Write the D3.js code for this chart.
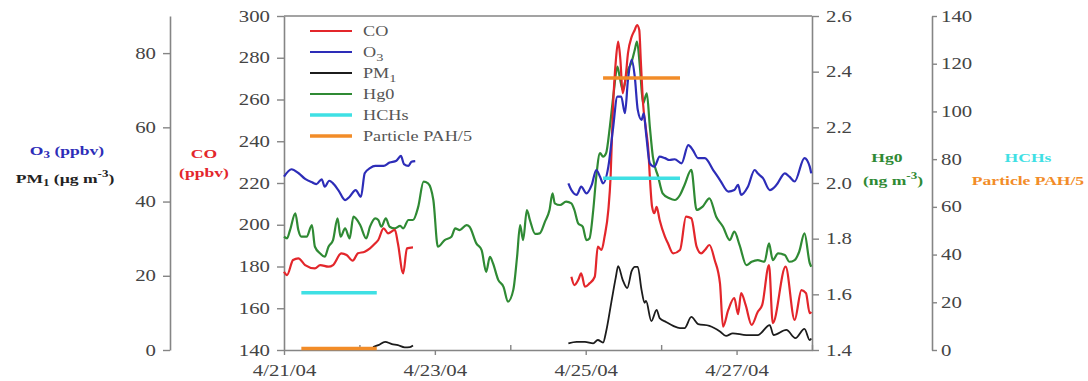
<!DOCTYPE html>
<html>
<head>
<meta charset="utf-8">
<script src="https://cdn.jsdelivr.net/npm/d3@7"></script>
<style>
  body { margin: 0; background: #fff; }
</style>
</head>
<body>
<div id="chart"></div>
<script>
// time is in days after 4/21/04 00:00
const coSeg1 = [[0.00,177.5],[0.04,175.9],[0.12,183.1],[0.19,183.9],[0.28,180.7],[0.41,179.1],[0.48,180.7],[0.59,179.9],[0.65,180.7],[0.76,186.3],[0.83,185.5],[0.91,182.8],[0.98,186.3],[1.07,187.1],[1.14,188.7],[1.21,191.1],[1.25,192.7],[1.32,198.3],[1.38,195.9],[1.47,197.5],[1.51,191.1],[1.58,176.7],[1.63,188.7],[1.71,189.2]];
const coSeg2 = [[3.81,175.1],[3.85,171.1],[3.90,173.5],[3.94,176.7],[3.99,170.3],[4.05,171.9],[4.12,175.1],[4.16,189.5],[4.21,187.9],[4.25,194.3],[4.30,207.1],[4.33,223.0],[4.36,255.0],[4.40,278.9],[4.43,287.7],[4.46,278.9],[4.49,263.0],[4.53,270.9],[4.56,282.1],[4.61,290.1],[4.65,293.3],[4.68,295.7],[4.71,293.3],[4.73,278.9],[4.76,258.2],[4.80,245.4],[4.83,235.8],[4.85,223.0],[4.88,208.6],[4.91,205.5],[4.94,208.6],[4.98,202.3],[5.05,194.3],[5.09,191.1],[5.16,186.3],[5.25,187.9],[5.33,203.9],[5.40,203.1],[5.47,189.5],[5.53,186.3],[5.58,187.9],[5.64,190.3],[5.71,183.1],[5.78,171.9],[5.82,151.2],[5.89,159.2],[5.97,164.9],[6.02,157.2],[6.06,167.3],[6.12,161.6],[6.20,152.0],[6.28,158.2],[6.34,161.6],[6.43,180.7],[6.48,152.9],[6.65,179.9],[6.77,154.4],[6.86,168.7],[6.92,167.2],[6.97,157.6],[6.99,158.3]];

const o3Seg1 = [[0.00,46.7],[0.10,48.7],[0.19,47.7],[0.28,46.1],[0.38,45.1],[0.43,44.7],[0.50,46.0],[0.54,44.0],[0.60,45.6],[0.65,44.9],[0.72,43.1],[0.81,40.4],[0.87,41.3],[0.95,43.1],[1.02,41.3],[1.07,47.6],[1.14,49.0],[1.21,49.6],[1.32,49.6],[1.40,50.5],[1.49,51.0],[1.55,52.3],[1.59,50.1],[1.65,49.6],[1.69,50.7],[1.74,50.9]];
const o3Seg2 = [[3.77,44.9],[3.81,43.1],[3.88,41.8],[3.94,44.0],[4.01,42.2],[4.08,44.5],[4.14,48.5],[4.19,46.7],[4.23,44.9],[4.30,49.4],[4.36,59.3],[4.42,68.3],[4.47,68.3],[4.52,63.8],[4.56,72.8],[4.61,78.2],[4.65,73.7],[4.69,64.7],[4.74,62.0],[4.77,63.8],[4.80,58.4],[4.85,50.3],[4.91,49.4],[4.98,52.1],[5.05,51.7],[5.11,51.2],[5.18,51.4],[5.27,50.3],[5.36,55.2],[5.42,53.9],[5.49,51.7],[5.58,51.7],[5.69,48.5],[5.78,45.8],[5.89,42.7],[5.97,43.1],[6.02,44.5],[6.06,41.8],[6.15,44.0],[6.24,48.5],[6.28,47.6],[6.35,46.3],[6.44,43.1],[6.53,44.5],[6.64,47.6],[6.70,46.7],[6.77,45.4],[6.90,51.7],[6.97,49.4],[6.99,47.6]];

const pmSeg1 = [[1.18,0.8],[1.25,1.3],[1.34,2.2],[1.43,1.6],[1.51,1.3],[1.60,0.7],[1.67,0.8],[1.71,1.2]];
const pmSeg2 = [[3.77,1.8],[3.88,2.2],[3.99,2.2],[4.10,1.8],[4.16,2.7],[4.23,2.0],[4.27,4.9],[4.34,12.9],[4.40,19.7],[4.43,22.6],[4.49,18.9],[4.55,16.7],[4.61,21.3],[4.65,22.4],[4.69,22.4],[4.74,16.2],[4.78,12.7],[4.80,13.2],[4.87,7.8],[4.94,10.8],[4.98,8.6],[5.07,7.5],[5.16,6.5],[5.25,5.9],[5.31,5.9],[5.40,8.9],[5.49,7.0],[5.64,6.5],[5.78,5.0],[5.86,3.8],[5.95,4.5],[6.13,4.0],[6.28,4.0],[6.44,6.7],[6.49,4.0],[6.66,5.4],[6.78,3.2],[6.90,5.7],[6.97,2.7],[6.99,3.1]];

const hgSeries = [[0.00,1.807],[0.04,1.801],[0.08,1.831],[0.15,1.891],[0.19,1.831],[0.23,1.807],[0.30,1.807],[0.37,1.849],[0.41,1.771],[0.48,1.747],[0.54,1.735],[0.59,1.771],[0.65,1.795],[0.71,1.873],[0.75,1.807],[0.81,1.837],[0.87,1.801],[0.92,1.879],[1.01,1.849],[1.09,1.801],[1.14,1.843],[1.21,1.873],[1.25,1.867],[1.29,1.843],[1.35,1.873],[1.40,1.843],[1.47,1.837],[1.54,1.846],[1.58,1.837],[1.65,1.867],[1.71,1.867],[1.78,1.915],[1.85,2.005],[1.91,1.999],[1.98,1.939],[2.04,1.771],[2.13,1.795],[2.22,1.807],[2.27,1.837],[2.33,1.831],[2.42,1.849],[2.46,1.843],[2.55,1.783],[2.62,1.759],[2.68,1.681],[2.73,1.735],[2.77,1.712],[2.84,1.652],[2.91,1.627],[2.97,1.574],[3.04,1.616],[3.09,1.735],[3.13,1.849],[3.17,1.795],[3.22,1.903],[3.26,1.867],[3.33,1.817],[3.39,1.819],[3.46,1.861],[3.52,1.903],[3.56,1.963],[3.59,1.927],[3.66,1.921],[3.74,1.933],[3.81,1.927],[3.85,1.903],[3.90,1.855],[3.96,1.843],[4.01,1.795],[4.05,1.801],[4.10,1.903],[4.14,2.023],[4.19,2.107],[4.23,2.095],[4.27,2.107],[4.32,2.202],[4.37,2.322],[4.42,2.418],[4.45,2.382],[4.49,2.334],[4.55,2.400],[4.61,2.436],[4.65,2.478],[4.68,2.508],[4.72,2.412],[4.76,2.286],[4.81,2.322],[4.85,2.202],[4.89,2.095],[4.96,2.023],[5.02,1.963],[5.11,1.945],[5.18,1.939],[5.25,1.957],[5.31,1.993],[5.40,2.047],[5.47,1.903],[5.55,1.915],[5.64,1.945],[5.73,1.879],[5.82,1.843],[5.91,1.795],[5.97,1.825],[6.04,1.777],[6.13,1.705],[6.20,1.717],[6.28,1.723],[6.37,1.717],[6.43,1.783],[6.48,1.723],[6.55,1.747],[6.64,1.741],[6.70,1.717],[6.77,1.723],[6.83,1.753],[6.90,1.819],[6.97,1.712],[6.99,1.699]];

// sample windows (start day, end day) and values
const sampleStart = [0.23, 4.23];
const sampleEnd = [1.23, 5.25];
const hchValues = [24, 72];
const pahValues = [0.6, 114];

const coTicks = [140, 160, 180, 200, 220, 240, 260, 280, 300];
const o3Ticks = [0, 20, 40, 60, 80];
const hgTicks = [1.4, 1.6, 1.8, 2.0, 2.2, 2.4, 2.6];
const hchTicks = [0, 20, 40, 60, 80, 100, 120, 140];

const legendNames = ["CO", "O3", "PM1", "Hg0", "HCHs", "Particle PAH/5"];
const colors = { co: "#e3262b", o3: "#2d2db8", pm: "#1c1c1c", hg: "#2f8a34", hch: "#3fe0e4", pah: "#f28c28" };

const width = 1088, height = 381;
const plotLeft = 284, plotRight = 812, plotTop = 16, plotBottom = 350;
const axisColor = "#858585", textColor = "#444";
const font = "'Liberation Serif', 'Times New Roman', serif";
const stretch = 1.3; // the source picture's lettering is wide

const svg = d3.select("#chart").append("svg")
  .attr("width", width)
  .attr("height", height)
  .attr("font-family", font);

const start = new Date(2004, 3, 21);
const end = new Date(2004, 3, 28);
const toDate = d => new Date(+start + d * 864e5);

const x = d3.scaleTime().domain([start, end]).range([plotLeft, plotRight]);
const yCO = d3.scaleLinear().domain([140, 300]).range([plotBottom, plotTop]);
const yO3 = d3.scaleLinear().domain([0, 90]).range([plotBottom, plotTop]);
const yHg = d3.scaleLinear().domain([1.4, 2.6]).range([plotBottom, plotTop]);
const yHch = d3.scaleLinear().domain([0, 140]).range([plotBottom, plotTop]);

function styleAxis(g) {
  g.attr("font-family", font).attr("font-size", 16);
  g.select(".domain").attr("stroke", axisColor).attr("stroke-width", 1.6);
  g.selectAll(".tick line").attr("stroke", axisColor).attr("stroke-width", 1.4);
  g.selectAll(".tick text").attr("fill", textColor);
}

// frame top
svg.append("line")
  .attr("x1", plotLeft).attr("x2", plotRight).attr("y1", plotTop).attr("y2", plotTop)
  .attr("stroke", axisColor).attr("stroke-width", 1.6);

// x axis
const days = d3.timeDay.range(start, d3.timeDay.offset(end, 1));
const xAxis = svg.append("g")
  .attr("transform", `translate(0,${plotBottom})`)
  .call(d3.axisBottom(x).tickValues(days)
    .tickFormat((d, i) => i % 2 === 0 ? d3.timeFormat("%-m/%d/%y")(d) : "")
    .tickSize(5).tickSizeOuter(0))
  .call(styleAxis);
xAxis.selectAll(".tick line").attr("y2", (d, i) => i % 2 === 0 ? 5 : -5);
xAxis.selectAll(".tick text").attr("y", 26).attr("dy", 0);

// CO axis
svg.append("g")
  .attr("transform", `translate(${plotLeft},0)`)
  .call(d3.axisLeft(yCO).tickValues(coTicks).tickSize(7).tickSizeOuter(0).tickPadding(7))
  .call(styleAxis);

// O3 / PM1 axis
svg.append("g")
  .attr("transform", "translate(170,0)")
  .call(d3.axisLeft(yO3).tickValues(o3Ticks).tickSize(7).tickSizeOuter(0).tickPadding(7))
  .call(styleAxis);

// Hg0 axis
svg.append("g")
  .attr("transform", `translate(${plotRight},0)`)
  .call(d3.axisRight(yHg).tickValues(hgTicks).tickFormat(d3.format(".1f")).tickSize(7).tickSizeOuter(0).tickPadding(7))
  .call(styleAxis);

// HCHs / PAH axis
svg.append("g")
  .attr("transform", "translate(932,0)")
  .call(d3.axisRight(yHch).tickValues(hchTicks).tickSize(5).tickSizeOuter(0).tickPadding(4))
  .call(styleAxis);

// series
function drawLine(data, y, color, w) {
  svg.append("path")
    .datum(data)
    .attr("fill", "none")
    .attr("stroke", color)
    .attr("stroke-width", w)
    .attr("stroke-linejoin", "round")
    .attr("d", d3.line()
      .x(d => x(toDate(d[0])))
      .y(d => y(d[1]))
      .curve(d3.curveMonotoneX));
}

drawLine(hgSeries, yHg, colors.hg, 2.2);
drawLine(pmSeg1, yO3, colors.pm, 1.8);
drawLine(pmSeg2, yO3, colors.pm, 1.8);
drawLine(coSeg1, yCO, colors.co, 2.2);
drawLine(coSeg2, yCO, colors.co, 2.2);
drawLine(o3Seg1, yO3, colors.o3, 2.2);
drawLine(o3Seg2, yO3, colors.o3, 2.2);

sampleStart.forEach((s, i) => {
  drawLine([[s, pahValues[i]], [sampleEnd[i], pahValues[i]]], yHch, colors.pah, 3.5);
  drawLine([[s, hchValues[i]], [sampleEnd[i], hchValues[i]]], yHch, colors.hch, 3.5);
});

// legend
const legendColors = [colors.co, colors.o3, colors.pm, colors.hg, colors.hch, colors.pah];
const legendWidths = [2.2, 2.2, 2.2, 2.2, 3.5, 3.5];
const legend = svg.append("g").attr("transform", "translate(310,31)");
legendNames.forEach((name, i) => {
  const row = legend.append("g").attr("transform", `translate(0,${i * 21})`);
  row.append("line").attr("x1", 0).attr("x2", 42)
    .attr("stroke", legendColors[i]).attr("stroke-width", legendWidths[i]);
  const t = row.append("text").attr("x", 53).attr("y", 5)
    .attr("font-size", 14).attr("fill", "#555");
  const m = name.match(/^(O|PM)(\d)$/);
  if (m) {
    t.append("tspan").text(m[1]);
    t.append("tspan").text(m[2]).attr("font-size", 11).attr("dy", 4);
  } else {
    t.text(name);
  }
});

// axis titles
const titles = svg.append("g").attr("font-weight", "bold").attr("font-size", 13.5);

const o3t = titles.append("text").attr("x", 67).attr("y", 155).attr("text-anchor", "middle").attr("fill", "#2d2db8");
o3t.append("tspan").text("O");
o3t.append("tspan").text("3").attr("font-size", 10).attr("dy", 3);
o3t.append("tspan").text(" (ppbv)").attr("dy", -3);

const pmt = titles.append("text").attr("x", 65).attr("y", 183).attr("text-anchor", "middle").attr("fill", "#222");
pmt.append("tspan").text("PM");
pmt.append("tspan").text("1").attr("font-size", 10).attr("dy", 3);
pmt.append("tspan").text("  (\u00b5g m").attr("dy", -3);
pmt.append("tspan").text("-3").attr("font-size", 10).attr("dy", -6);
pmt.append("tspan").text(")").attr("dy", 6);

titles.append("text").attr("x", 204).attr("y", 158).attr("text-anchor", "middle").attr("fill", colors.co).text("CO");
titles.append("text").attr("x", 204).attr("y", 177).attr("text-anchor", "middle").attr("fill", colors.co).text("(ppbv)");

titles.append("text").attr("x", 887).attr("y", 162).attr("text-anchor", "middle").attr("fill", colors.hg).text("Hg0");
const hgt = titles.append("text").attr("x", 893).attr("y", 185).attr("text-anchor", "middle").attr("fill", colors.hg);
hgt.append("tspan").text("(ng m");
hgt.append("tspan").text("-3").attr("font-size", 10).attr("dy", -6);
hgt.append("tspan").text(")").attr("dy", 6);

titles.append("text").attr("x", 1028).attr("y", 162).attr("text-anchor", "middle").attr("fill", colors.hch).text("HCHs");
titles.append("text").attr("x", 1028).attr("y", 185).attr("text-anchor", "middle").attr("fill", colors.pah).text("Particle PAH/5");

// widen the lettering like the source picture
svg.selectAll("text").each(function () {
  const len = this.getComputedTextLength();
  if (len > 0) {
    d3.select(this).attr("textLength", len * stretch).attr("lengthAdjust", "spacingAndGlyphs");
  }
});
</script>
</body>
</html>
